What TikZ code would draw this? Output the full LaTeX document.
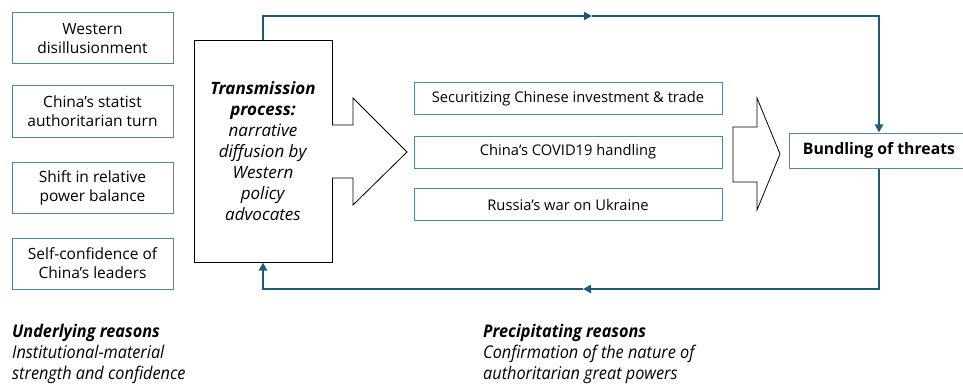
\documentclass[tikz,border=0pt]{standalone}
\usepackage{fontspec}
\setmainfont{Open Sans}
\newfontfamily\narrowit[FakeStretch=0.93]{Open Sans}
\usetikzlibrary{arrows.meta}
\definecolor{boxline}{RGB}{84,132,160}
\definecolor{loopline}{RGB}{28,92,122}
\tikzset{
  leftbox/.style={draw=boxline, line width=1pt, minimum width=161pt, minimum height=51pt, align=center, font=\fontsize{15.5}{19}\selectfont, inner sep=2pt},
  midbox/.style={draw=boxline, line width=1pt, minimum width=308pt, minimum height=32pt, align=center, font=\fontsize{14.7}{16}\selectfont, inner sep=2pt},
  transbox/.style={draw=black, line width=1pt, minimum width=138pt, minimum height=221pt, align=center, font=\fontsize{17}{21}\selectfont, inner sep=2pt, fill=white},
  bundbox/.style={draw=boxline, line width=1pt, minimum width=180pt, minimum height=35pt, font=\fontsize{15.8}{18}\selectfont\bfseries, inner sep=2pt},
  loop/.style={draw=loopline, line width=2pt, -{Triangle[length=8pt,width=8pt]}},
  blockarrow/.style={draw=black, line width=0.8pt, fill=white, line join=miter},
  caption/.style={align=left, anchor=north west, font=\fontsize{17.5}{21}\selectfont, inner sep=0pt}
}
\begin{document}
\begin{tikzpicture}[x=1pt,y=-1pt]
\useasboundingbox (0,0) rectangle (963,385);
\clip (0,0) rectangle (963,385);
% left boxes
\node[leftbox] (w) at (92.5,38.5) {Western\\disillusionment};
\node[leftbox] (c) at (92.5,111.5) {China’s statist\\authoritarian turn};
\node[leftbox] (s) at (92.5,188) {Shift in relative\\power balance};
\node[leftbox] (l) at (92.5,263.5) {Self-confidence of\\China’s leaders};
% transmission
\node[transbox] (t) at (263,151.5) {\textbf{\textit{Transmission}}\\\textbf{\textit{process:}}\\\textit{narrative}\\\textit{diffusion by}\\\textit{Western}\\\textit{policy}\\\textit{advocates}};
% block arrow 1
\draw[blockarrow] (332,125) -- (353,125) -- (353,98) -- (407,152) -- (353,205) -- (353,178) -- (332,178);
% middle boxes
\node[midbox] (m1) at (568,99) {Securitizing Chinese investment \& trade};
\node[midbox] (m2) at (568,152) {China’s COVID19 handling};
\node[midbox] (m3) at (568,204.5) {Russia’s war on Ukraine};
% block arrow 2
\draw[blockarrow] (733,127) -- (757,127) -- (757,98) -- (780,154) -- (757,210) -- (757,182) -- (733,182) -- cycle;
% bundling
\node[bundbox] (b) at (879,150.5) {Bundling of threats};
% loop
\coordinate (top) at (592,16);
\coordinate (bot) at (583,289);
\draw[loop] (t.north) |- (top);
\draw[loop] (top) -| (b.north);
\draw[loop] (b.south) |- (bot);
\draw[loop] (bot) -| (t.south);
% captions
\node[caption] (u) at (12,324) {{\narrowit\bfseries\itshape Underlying reasons}\\{\narrowit\itshape Institutional-material}\\{\narrowit\itshape strength and confidence}};
\node[caption] (p) at (483,324) {{\narrowit\bfseries\itshape Precipitating reasons}\\{\narrowit\itshape Confirmation of the nature of}\\{\narrowit\itshape authoritarian great powers}};
\end{tikzpicture}
\end{document}
